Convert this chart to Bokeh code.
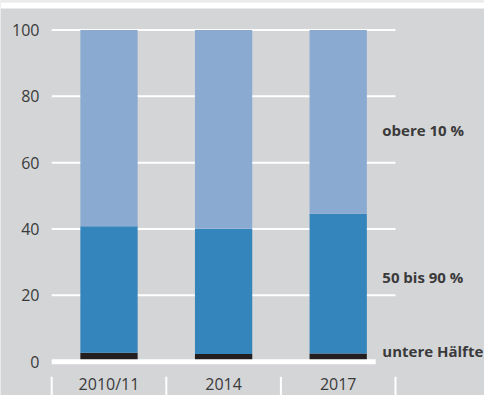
from bokeh.plotting import figure
from bokeh.models import Range1d
from bokeh.core.properties import value
from bokeh.embed import file_html
from bokeh.resources import INLINE

# ---- data ----
categories = ["2010/11", "2014", "2017"]
untere_haelfte = [2.7, 2.3, 2.5]
mitte_50_90 = [38.1, 37.8, 42.1]
obere_10 = [59.2, 59.9, 55.4]
series_labels = ["obere 10 %", "50 bis 90 %", "untere Hälfte"]
y_ticks = [0, 20, 40, 60, 80, 100]

BG = "#d4d5d7"
C_LIGHT = "#8aaad1"
C_MID = "#3585bd"
C_DARK = "#231f20"
TXT = "#3a3a3a"
FONT = "Open Sans"

n = len(categories)
xc = [i + 0.5 for i in range(n)]
b1 = [0] * n
t1 = untere_haelfte
t2 = [a + b for a, b in zip(t1, mitte_50_90)]
t3 = [a + b for a, b in zip(t2, obere_10)]

X0, X1 = -0.4468, 3.7766
Y0, Y1 = -10.19, 108.89

p = figure(width=484, height=395, output_backend="svg", toolbar_location=None,
           x_range=Range1d(X0, X1), y_range=Range1d(Y0, Y1),
           min_border_left=0, min_border_right=0, min_border_top=0, min_border_bottom=0)
p.background_fill_color = BG
p.border_fill_color = BG
p.outline_line_color = None
p.axis.visible = False
p.grid.visible = False

# top white strip
p.quad(left=[X0], right=[X1], bottom=[106.48], top=[Y1], fill_color="white", line_color=None)
p.quad(left=[X0], right=[X1], bottom=[108.3], top=[Y1], fill_color="#e8e8e8", line_color=None)

# y tick labels
p.text(x=[-0.1065] * len(y_ticks), y=y_ticks, text=[str(t) for t in y_ticks],
       text_align="right", text_baseline="middle",
       text_font=value(FONT), text_font_size="16px", text_color=TXT)

# grid lines (non-zero)
gy = [t for t in y_ticks if t != 0]
p.segment(x0=[0] * len(gy), x1=[n] * len(gy), y0=gy, y1=gy, line_color="white", line_width=2)

# bars
w = 0.5
p.vbar(x=xc, width=w, bottom=b1, top=t1, fill_color=C_DARK, line_color=None)
p.vbar(x=xc, width=w, bottom=t1, top=t2, fill_color=C_MID, line_color=None)
p.vbar(x=xc, width=w, bottom=t2, top=t3, fill_color=C_LIGHT, line_color=None)

# zero line
p.segment(x0=[0], x1=[n - 0.173], y0=[0], y1=[0], line_color="white", line_width=5)

# category separators
sx = list(range(n + 1))
p.segment(x0=sx, x1=sx, y0=[-4.5] * len(sx), y1=[Y0 - 1] * len(sx), line_color="white", line_width=2)

# category labels
p.text(x=xc, y=[-6.7] * n, text=categories, text_align="center", text_baseline="middle",
       text_font=value(FONT), text_font_size="16px", text_color=TXT)

# series labels on right
lab_y = [69.9, 25.5, 3.1]
p.text(x=[2.885] * 3, y=lab_y, text=series_labels, text_align="left", text_baseline="middle",
       text_font=value(FONT), text_font_size="15px", text_font_style="bold", text_color=TXT)

open("out.html", "w").write(file_html(p, INLINE))
